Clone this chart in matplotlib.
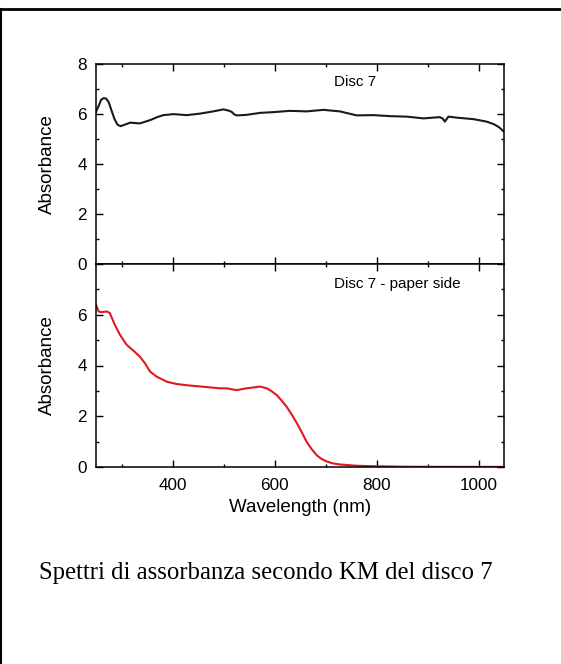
import matplotlib
matplotlib.use("Agg")
import matplotlib.pyplot as plt
from matplotlib.lines import Line2D
from matplotlib.ticker import MultipleLocator

plt.rcParams['font.family'] = ['Liberation Sans', 'DejaVu Sans']

# Disc 7 (top panel)
wl_top = [250, 255, 260, 265, 270, 275, 280, 286, 292, 298, 304, 317, 336, 356, 370, 382,
          402, 428, 454, 480, 500, 510, 516, 521, 526, 545, 572, 598, 630, 663, 696, 728,
          761, 794, 826, 859, 892, 924, 930, 934, 938, 941, 957, 990, 1016, 1030, 1040, 1050]
abs_top = [6.07, 6.3, 6.55, 6.62, 6.6, 6.45, 6.15, 5.8, 5.56, 5.5, 5.54, 5.64, 5.61, 5.74, 5.86, 5.94,
           5.98, 5.94, 6.0, 6.09, 6.17, 6.12, 6.07, 5.97, 5.93, 5.95, 6.03, 6.06, 6.11, 6.09, 6.15, 6.09,
           5.93, 5.94, 5.9, 5.88, 5.81, 5.86, 5.8, 5.68, 5.8, 5.88, 5.84, 5.78, 5.68, 5.58, 5.46, 5.28]

# Disc 7 - paper side (bottom panel)
wl_bot = [250, 255, 261, 271, 277, 287, 297, 310, 323, 336, 346, 356, 369, 389,
          408, 434, 467, 493, 506, 526, 545, 572, 585, 594, 604, 614, 624, 634, 644, 654,
          663, 673, 683, 692, 702, 715, 728, 761, 794, 859, 950, 1050]
abs_bot = [6.4, 6.13, 6.1, 6.13, 6.07, 5.6, 5.21, 4.82, 4.59, 4.35, 4.09, 3.76, 3.56, 3.36,
           3.27, 3.21, 3.15, 3.1, 3.1, 3.03, 3.1, 3.17, 3.1, 2.99, 2.84, 2.62, 2.37, 2.06, 1.72, 1.35,
           0.99, 0.7, 0.46, 0.32, 0.22, 0.14, 0.1, 0.05, 0.03, 0.01, 0.005, 0.005]

xticks = [400, 600, 800, 1000]
yticks = [0, 2, 4, 6, 8]

W, H = 561, 664
fig = plt.figure(figsize=(W / 100, H / 100), dpi=100)

left = 96 / W
width = (504 - 96) / W
ax1 = fig.add_axes([left, 1 - 264 / H, width, (264 - 63.5) / H])
ax2 = fig.add_axes([left, 1 - 467 / H, width, (467 - 264) / H])

ax1.plot(wl_top, abs_top, color='#1a1a1a', lw=1.5)
ax2.plot(wl_bot, abs_bot, color='#e01820', lw=1.5)

for ax in (ax1, ax2):
    ax.set_xlim(250, 1050)
    ax.set_ylim(0, 8)
    ax.set_xticks(xticks)
    ax.xaxis.set_minor_locator(MultipleLocator(100))
    ax.set_yticks(yticks)
    ax.yaxis.set_minor_locator(MultipleLocator(1))
    ax.tick_params(which='both', direction='in', top=True, right=True, width=1.0,
                   labelsize=12.3)
    ax.tick_params(which='major', length=5)
    ax.tick_params(which='minor', length=2.5)
    ax.tick_params(axis='y', pad=6.5)
    ax.tick_params(axis='x', pad=8)
    for s in ax.spines.values():
        s.set_linewidth(1.1)
    ax.set_ylabel('Absorbance', fontsize=13.5, labelpad=15.5)

ax1.tick_params(labelbottom=False)
ax2.set_yticklabels(['0', '2', '4', '6', ''])
ax2.set_xlabel('Wavelength (nm)', fontsize=13.5, labelpad=4)

ax1.text(0.583, 0.91, 'Disc 7', transform=ax1.transAxes, fontsize=11,
         ha='left', va='center')
ax2.text(0.583, 0.90, 'Disc 7 - paper side', transform=ax2.transAxes, fontsize=11,
         ha='left', va='center')

fig.text(266 / W, 1 - 573 / H, 'Spettri di assorbanza secondo KM del disco 7',
         ha='center', va='center', fontsize=17.8,
         family=['Liberation Serif', 'DejaVu Serif'])

# page border lines (top and left)
fig.add_artist(Line2D([0, 1], [1 - 9.3 / H, 1 - 9.3 / H], transform=fig.transFigure,
                      color='black', lw=2))
fig.add_artist(Line2D([0.8 / W, 0.8 / W], [0, 1 - 9.3 / H], transform=fig.transFigure,
                      color='black', lw=1.5))

fig.savefig('out.png', dpi=100)
